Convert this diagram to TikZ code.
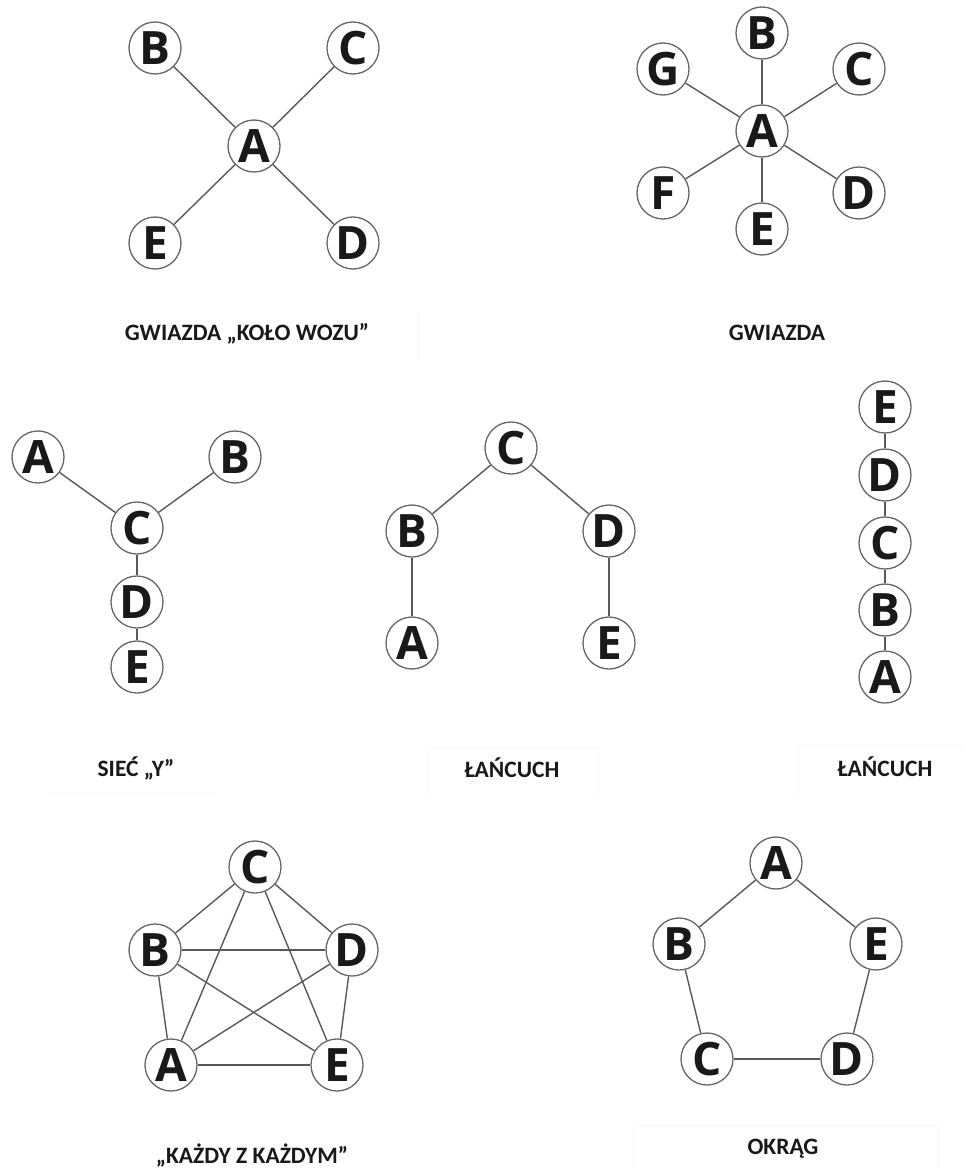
\documentclass[tikz,border=0pt]{standalone}
\usepackage{fontspec}
\setmainfont{Open Sans}
\newfontfamily\labfont{Carlito}
\begin{document}
\begin{tikzpicture}[x=1pt,y=-1pt,
  vtx/.style={circle,draw=black!60,line width=1.3pt,fill=white,minimum size=52pt,inner sep=0pt,
    font=\fontsize{46}{46}\selectfont\bfseries,text=black!90},
  edge/.style={draw=black!65,line width=1.4pt},
  lab/.style={font=\labfont\fontsize{23.5}{23.5}\selectfont\bfseries,text=black!90,inner sep=0pt},
  faint/.style={draw=black!3,line width=1pt}]
\useasboundingbox (0,0) rectangle (964,1169);
% faint label boxes
\draw[faint] (418,310) -- (418,362);
\draw[faint] (50,793) -- (217,793);
\draw[faint] (427,797) |- (598,747) -- (598,797);
\draw[faint] (798,797) |- (964,745);
\draw[faint] (633,1169) |- (938,1125) -- (938,1169);
% Graph 1
\node[vtx] (g1b) at (155,48) {B};
\node[vtx] (g1c) at (353,48) {C};
\node[vtx] (g1a) at (254,146) {A};
\node[vtx] (g1e) at (155,243) {E};
\node[vtx] (g1d) at (353,243) {D};
\foreach \n in {b,c,d,e} \draw[edge] (g1a) -- (g1\n);
\node[lab,anchor=base] (l1) at (247,340) {GWIAZDA „KOŁO WOZU”};
% Graph 2
\node[vtx] (g2a) at (762,131) {A};
\node[vtx] (g2b) at (762,33) {B};
\node[vtx] (g2g) at (663,69) {G};
\node[vtx] (g2c) at (859,69) {C};
\node[vtx] (g2f) at (663,193) {F};
\node[vtx] (g2d) at (859,193) {D};
\node[vtx] (g2e) at (762,229) {E};
\foreach \n in {b,c,d,e,f,g} \draw[edge] (g2a) -- (g2\n);
\node[lab,anchor=base] (l2) at (777,340) {GWIAZDA};
% Graph 3
\node[vtx] (g3a) at (38,457) {A};
\node[vtx] (g3b) at (235,457) {B};
\node[vtx] (g3c) at (137,528) {C};
\node[vtx] (g3d) at (137,602) {D};
\node[vtx] (g3e) at (137,667) {E};
\draw[edge] (g3a) -- (g3c);
\draw[edge] (g3b) -- (g3c);
\draw[edge] (g3c) -- (g3d);
\draw[edge] (g3d) -- (g3e);
\node[lab,anchor=base] (l3) at (136,776) {SIEĆ „Y”};
% Graph 4
\node[vtx] (g4c) at (511,448) {C};
\node[vtx] (g4b) at (412,531) {B};
\node[vtx] (g4d) at (609,531) {D};
\node[vtx] (g4a) at (412,643) {A};
\node[vtx] (g4e) at (609,643) {E};
\draw[edge] (g4a) -- (g4b);
\draw[edge] (g4b) -- (g4c);
\draw[edge] (g4c) -- (g4d);
\draw[edge] (g4d) -- (g4e);
\node[lab,anchor=base] (l4) at (512,777) {ŁAŃCUCH};
% Graph 5
\node[vtx] (g5e) at (885,407) {E};
\node[vtx] (g5d) at (885,475) {D};
\node[vtx] (g5c) at (885,543) {C};
\node[vtx] (g5b) at (885,610) {B};
\node[vtx] (g5a) at (885,677) {A};
\draw[edge] (g5e) -- (g5d);
\draw[edge] (g5d) -- (g5c);
\draw[edge] (g5c) -- (g5b);
\draw[edge] (g5b) -- (g5a);
\node[lab,anchor=base] (l5) at (885,776) {ŁAŃCUCH};
% Graph 6
\node[vtx] (g6c) at (255,867) {C};
\node[vtx] (g6b) at (155,950) {B};
\node[vtx] (g6d) at (352,950) {D};
\node[vtx] (g6a) at (171,1065) {A};
\node[vtx] (g6e) at (337,1065) {E};
\draw[edge] (g6a) -- (g6b);
\draw[edge] (g6a) -- (g6c);
\draw[edge] (g6a) -- (g6d);
\draw[edge] (g6a) -- (g6e);
\draw[edge] (g6b) -- (g6c);
\draw[edge] (g6b) -- (g6d);
\draw[edge] (g6b) -- (g6e);
\draw[edge] (g6c) -- (g6d);
\draw[edge] (g6c) -- (g6e);
\draw[edge] (g6d) -- (g6e);
\node[lab,anchor=base] (l6) at (252,1163) {„KAŻDY Z KAŻDYM”};
% Graph 7
\node[vtx] (g7a) at (776,863) {A};
\node[vtx] (g7b) at (679,944) {B};
\node[vtx] (g7e) at (876,944) {E};
\node[vtx] (g7c) at (707,1059) {C};
\node[vtx] (g7d) at (847,1059) {D};
\draw[edge] (g7a) -- (g7b);
\draw[edge] (g7b) -- (g7c);
\draw[edge] (g7c) -- (g7d);
\draw[edge] (g7d) -- (g7e);
\draw[edge] (g7e) -- (g7a);
\node[lab,anchor=base] (l7) at (783,1154) {OKRĄG};
\end{tikzpicture}
\end{document}
